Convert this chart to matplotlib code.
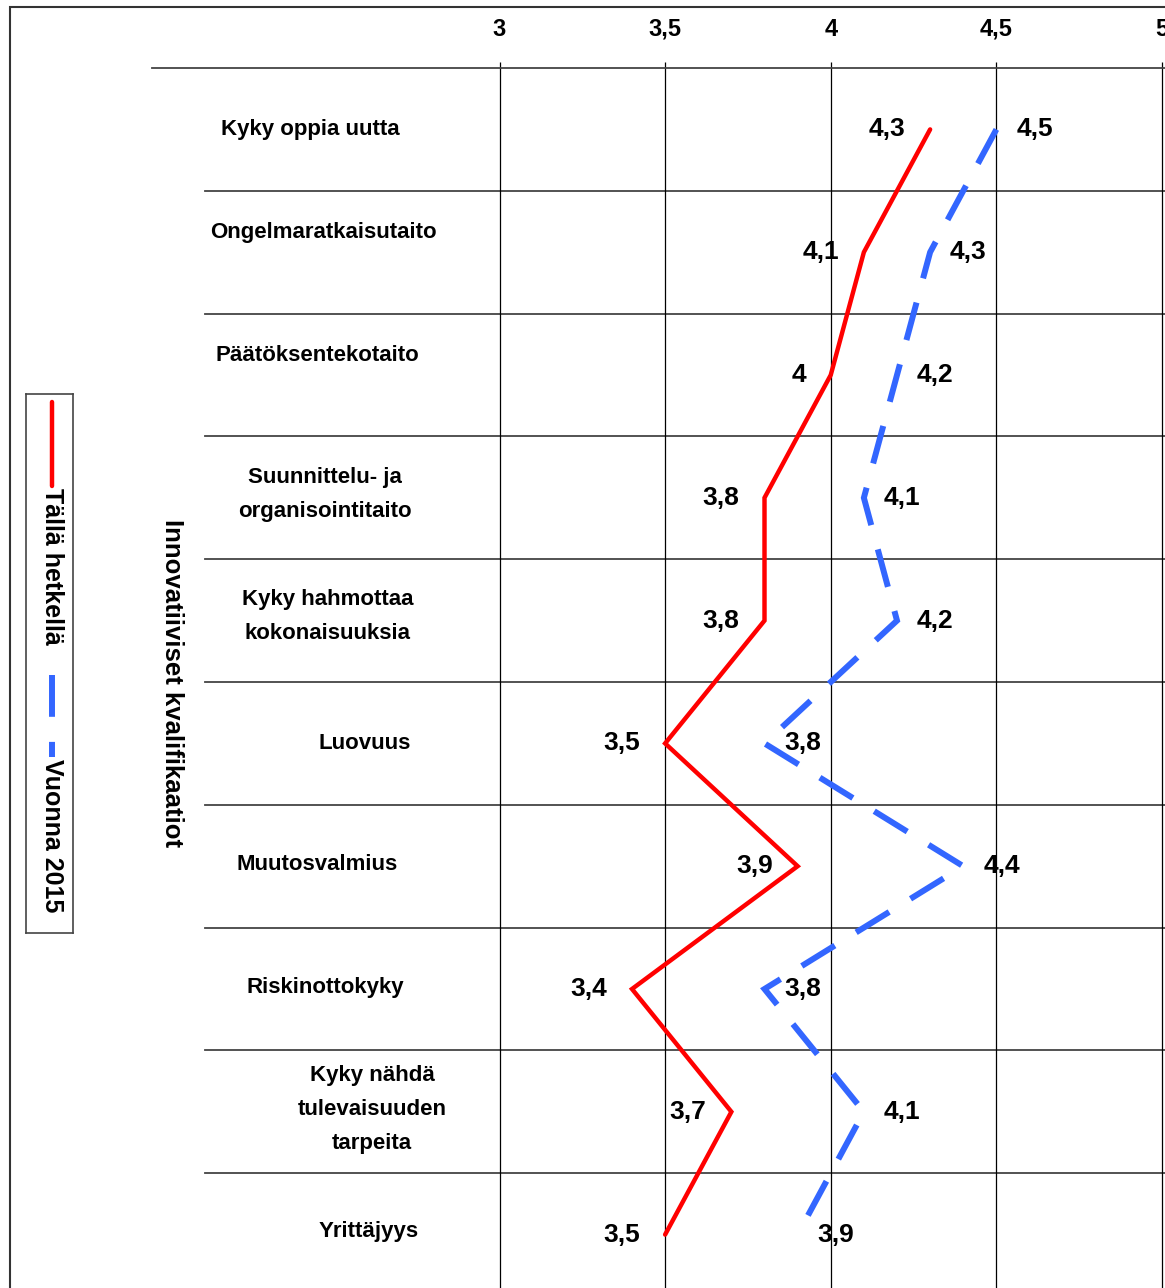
import matplotlib.pyplot as plt
from matplotlib.patches import Rectangle

plt.rcParams['font.family'] = ['Liberation Sans', 'DejaVu Sans']

# data
categories = [
    "Kyky oppia uutta",
    "Ongelmaratkaisutaito",
    "Päätöksentekotaito",
    "Suunnittelu- ja\norganisointitaito",
    "Kyky hahmottaa\nkokonaisuuksia",
    "Luovuus",
    "Muutosvalmius",
    "Riskinottokyky",
    "Kyky nähdä\ntulevaisuuden\ntarpeita",
    "Yrittäjyys",
]
nyt = [4.3, 4.1, 4.0, 3.8, 3.8, 3.5, 3.9, 3.4, 3.7, 3.5]
v2015 = [4.5, 4.3, 4.2, 4.1, 4.2, 3.8, 4.4, 3.8, 4.1, 3.9]
series_names = ["Tällä hetkellä", "Vuonna 2015"]
xticks = [3, 3.5, 4, 4.5, 5]
ylabel = "Innovatiiviset kvalifikaatiot"

# layout (pixels of the 1165x1288 image)
W, H = 1165, 1288
label_cx = [310, 323, 317, 325, 328, 365, 317, 325, 372, 369]
label_dy = [0, -20, -19, -3, -4, 0, -2, -1, -2, -3]


def fmt(v):
    return f"{v:g}".replace(".", ",")


def px2v(px):
    return 3 + (px - 499.5) / 331.25


fig = plt.figure(figsize=(W / 100, H / 100), dpi=100)
ax = fig.add_axes([152 / W, 1 - 1296 / H, (1165 - 152) / W, (1296 - 68) / H])

n = len(categories)
rows = list(range(n))
ax.set_xlim(px2v(152), px2v(1165))
ax.set_ylim(n - 0.5, -0.5)
row_px = (1296 - 68) / n

# grid
ax.set_xticks(xticks)
ax.set_xticklabels([fmt(t) for t in xticks], fontsize=17, fontweight='bold')
ax.xaxis.tick_top()
ax.tick_params(axis='x', length=4.3, width=0.9, pad=15.5, color='black')
ax.set_yticks([])
ax.grid(axis='x', color='black', lw=0.9)
for b in range(n):
    ax.axhline(b + 0.5, xmin=(205 - 152) / (1165 - 152), color='#444444', lw=1.3, zorder=1)
for s in ['left', 'right', 'bottom']:
    ax.spines[s].set_visible(False)
ax.spines['top'].set_color('#444444')
ax.spines['top'].set_linewidth(1.3)

# lines
ax.plot(nyt, rows, color='#ff0000', lw=3.2, solid_joinstyle='miter',
        solid_capstyle='round', zorder=3)
ax.plot(v2015, rows, color='#3366ff', lw=4.3, linestyle=(0, (6.5, 4.2)),
        dash_joinstyle='miter', dash_capstyle='butt', zorder=3)

for i in rows:
    ax.annotate(fmt(nyt[i]), (nyt[i], i), xytext=(-18, 0), textcoords='offset points',
                ha='right', va='center', fontsize=19, fontweight='bold')
    ax.annotate(fmt(v2015[i]), (v2015[i], i), xytext=(14.4, 0), textcoords='offset points',
                ha='left', va='center', fontsize=19, fontweight='bold')
    ax.text(px2v(label_cx[i]), i + label_dy[i] / row_px, categories[i],
            ha='center', va='center', multialignment='center',
            fontsize=16, fontweight='bold', linespacing=1.8)

# y label
fig.text(172 / W, 1 - 683 / H, ylabel, rotation=270, ha='center', va='center',
         fontsize=18.5, fontweight='bold')

# legend box
lax = fig.add_axes([26 / W, 1 - 933 / H, 47 / W, 539 / H])
lax.set_xlim(26, 73)
lax.set_ylim(933, 394)
lax.set_xticks([])
lax.set_yticks([])
for s in lax.spines.values():
    s.set_color('#444444')
    s.set_linewidth(1.2)
lax.plot([52, 52], [402, 486], color='#ff0000', lw=3.2, solid_capstyle='round')
lax.text(52, 488, series_names[0], rotation=270, ha='center', va='top',
         fontsize=18, fontweight='bold')
lax.plot([52, 52], [675, 757], color='#3366ff', lw=4.3, linestyle=(0, (7, 4.2)),
         dash_capstyle='butt')
lax.text(52, 759, series_names[1], rotation=270, ha='center', va='top',
         fontsize=18, fontweight='bold')

# outer frame
fig.add_artist(Rectangle((10 / W, -0.1), 1.5, 1.1 - 7 / H, transform=fig.transFigure,
                         fill=False, ec='#333333', lw=1.5))

fig.savefig('out.png', dpi=100)
